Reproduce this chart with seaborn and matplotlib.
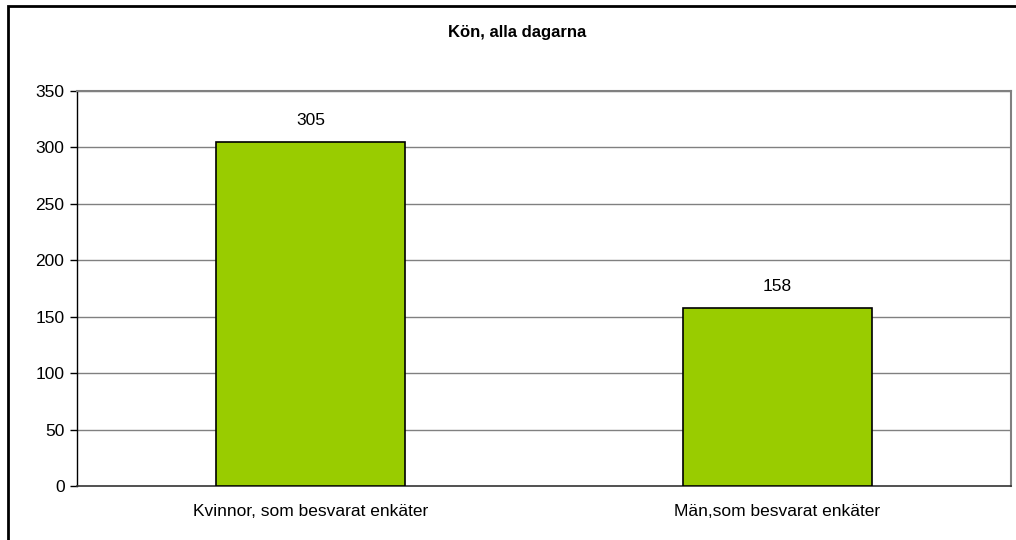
import matplotlib
matplotlib.use("Agg")
import matplotlib.pyplot as plt
import seaborn as sns
import pandas as pd
from matplotlib.patches import Rectangle

categories = ["Kvinnor, som besvarat enkäter", "Män,som besvarat enkäter"]
values = [305, 158]
yticks = [0, 50, 100, 150, 200, 250, 300, 350]
title = "Kön, alla dagarna"

sns.set_style("white")
plt.rcParams['font.family'] = ['Liberation Sans', 'DejaVu Sans']
plt.rcParams['text.color'] = 'black'
plt.rcParams['xtick.color'] = 'black'
plt.rcParams['ytick.color'] = 'black'
plt.rcParams['axes.labelcolor'] = 'black'

df = pd.DataFrame({"cat": categories, "val": values})

fig = plt.figure(figsize=(10.16, 5.40), dpi=100)
ax = fig.add_axes([77/1016, 1-486/540, (1011-77)/1016, (486-91)/540])

sns.barplot(data=df, x="cat", y="val", ax=ax, color="#99CC00", saturation=1,
            width=0.406, edgecolor="black", linewidth=1.2, zorder=3)

fs = 12.5
ax.set_ylim(0, 350)
ax.set_xlim(-0.5, 1.5)
ax.set_yticks(yticks)
ax.set_yticklabels([str(t) for t in yticks], fontsize=fs)
ax.tick_params(axis='x', labelsize=fs, length=0, pad=13, labelcolor='black')
ax.tick_params(axis='y', length=5, width=1, color='black', left=True, pad=4, labelcolor='black')
ax.set_xlabel("")
ax.set_ylabel("")
for y in yticks[1:]:
    ax.axhline(y, color="#808080", linewidth=1, zorder=1)

for s in ['top', 'right']:
    ax.spines[s].set_color('#808080')
    ax.spines[s].set_linewidth(1.5)
ax.spines['left'].set_color('black')
ax.spines['left'].set_linewidth(1)
ax.spines['bottom'].set_color('#333333')
ax.spines['bottom'].set_linewidth(1.2)

for p, v in zip(ax.patches, values):
    ax.annotate(str(v), (p.get_x() + p.get_width()/2, v), xytext=(0, 10),
                textcoords="offset points", ha="center", va="bottom", fontsize=fs,
                color="black")

fig.text(517/1016, 1-33/540, title, ha="center", va="center", fontsize=12,
         fontweight="bold", color="black")

fig.patches.append(Rectangle((8/1016, -0.1), 1.2, 1 - 6/540 + 0.1, transform=fig.transFigure,
                             fill=False, edgecolor="black", linewidth=2, zorder=10))

fig.savefig("out.png", dpi=100)
